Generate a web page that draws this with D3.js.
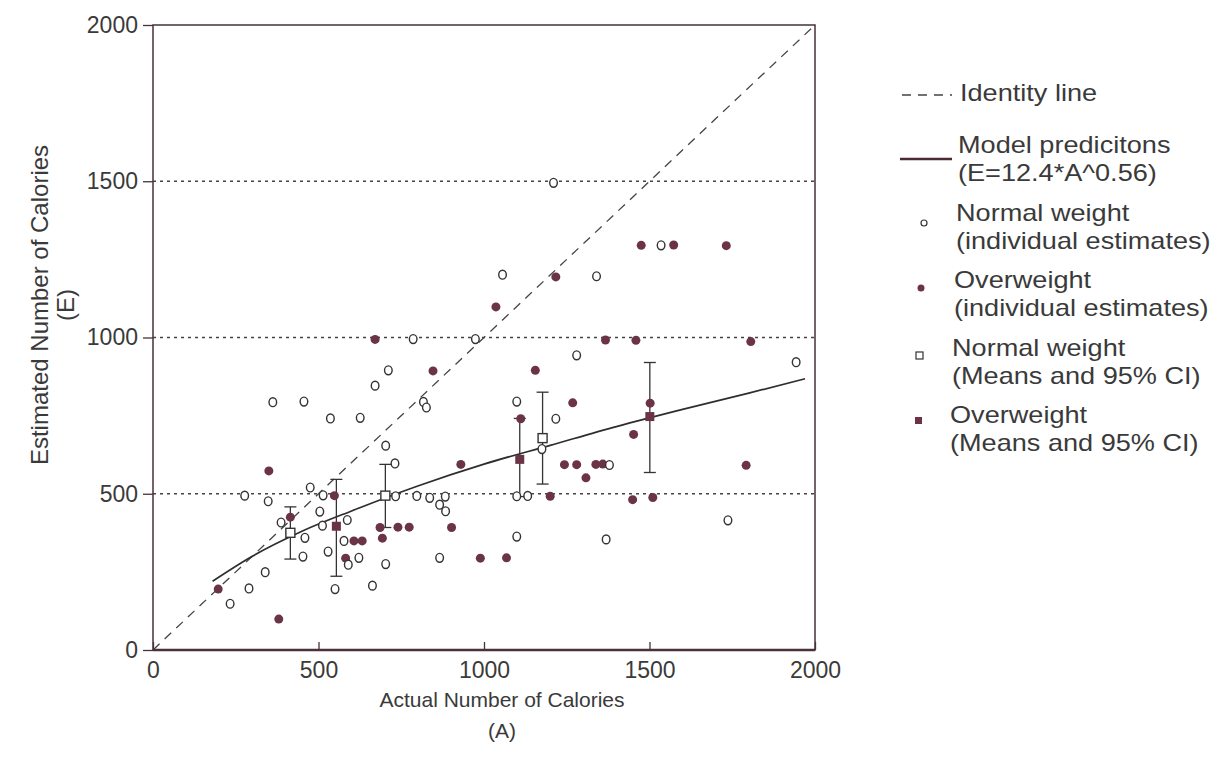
<!DOCTYPE html>
<html>
<head>
<meta charset="utf-8">
<script src="https://cdn.jsdelivr.net/npm/d3@7"></script>
<style>
  html, body { margin: 0; padding: 0; background: #ffffff; }
  svg { display: block; }
  text { font-family: "Liberation Sans", Arial, sans-serif; fill: #3a3a3a; }
</style>
</head>
<body>
<svg id="chart" width="1214" height="765"></svg>
<script>
// ---------------- DATA ----------------
const xTicks = [0, 500, 1000, 1500, 2000];
const yTicks = [0, 500, 1000, 1500, 2000];
const gridValues = [500, 1000, 1500];

// Normal weight, individual estimates [A, E]
const normalIndividual = [
  [233,148],[277,494],[290,197],[339,249],[348,476],[362,793],[387,408],[414,375],
  [453,299],[456,795],[459,359],[475,520],[504,443],[512,398],[514,495],[529,315],
  [536,741],[550,195],[577,349],[587,416],[590,273],[622,295],[626,743],[663,206],
  [671,846],[703,275],[703,654],[711,895],[731,597],[733,492],[786,995],[797,493],
  [817,794],[826,776],[836,487],[866,295],[866,465],[883,491],[884,444],[974,995],
  [1056,1201],[1099,363],[1099,492],[1099,795],[1132,493],[1175,643],[1210,1495],
  [1217,740],[1280,943],[1340,1196],[1369,354],[1379,592],[1535,1295],[1737,415],[1943,921]
];

// Overweight, individual estimates [A, E]
const overweightIndividual = [
  [197,195],[350,573],[380,99],[415,425],[548,494],[582,294],[607,349],[632,349],
  [671,994],[686,392],[693,358],[740,393],[774,393],[846,893],[902,392],[930,594],
  [989,294],[1036,1098],[1068,295],[1111,740],[1155,895],[1200,492],[1217,1194],
  [1243,593],[1268,791],[1280,593],[1308,551],[1338,594],[1359,595],[1367,992],
  [1449,481],[1452,690],[1459,991],[1475,1295],[1502,790],[1510,488],[1573,1296],
  [1732,1294],[1792,591],[1806,987]
];

// Means and 95% CI
const normalMeanA  = [415, 702, 1177];
const normalMeanE  = [375, 494, 678];
const normalLow    = [291, 392, 531];
const normalHigh   = [458, 594, 825];

const overMeanA    = [554, 1108, 1501];
const overMeanE    = [396, 610, 747];
const overLow      = [236, 491, 568];
const overHigh     = [546, 741, 920];

// Model predictions curve
const modelA = [180, 300, 450, 600, 800, 1000, 1200, 1400, 1600, 1800, 1970];
const modelE = [220, 300, 380, 445, 525, 595, 655, 715, 770, 822, 868];

// Legend labels
const legendLabels = [
  ["Identity line"],
  ["Model predicitons", "(E=12.4*A^0.56)"],
  ["Normal weight", "(individual estimates)"],
  ["Overweight", "(individual estimates)"],
  ["Normal weight", "(Means and 95% CI)"],
  ["Overweight", "(Means and 95% CI)"]
];

// ---------------- DRAWING ----------------
const svg = d3.select("#chart");
const pL = 153, pR = 815, pT = 25, pB = 650;
const x = d3.scaleLinear().domain([0, 2000]).range([pL, pR]);
const y = d3.scaleLinear().domain([0, 2000]).range([pB, pT]);

const ink = "#333333";
const frame = "#4a3037";
const maroon = "#6b3446";

// Grid (dotted horizontal reference lines)
svg.append("g").selectAll("line").data(gridValues).join("line")
  .attr("x1", x(0)).attr("x2", x(2000))
  .attr("y1", d => y(d)).attr("y2", d => y(d))
  .attr("stroke", "#444").attr("stroke-width", 1.3)
  .attr("stroke-dasharray", "3,4");

// Identity line
svg.append("line")
  .attr("x1", x(0)).attr("y1", y(0)).attr("x2", x(2000)).attr("y2", y(2000))
  .attr("stroke", "#444").attr("stroke-width", 1.3)
  .attr("stroke-dasharray", "9,7");

// Frame
svg.append("rect")
  .attr("x", pL).attr("y", pT).attr("width", pR - pL).attr("height", pB - pT)
  .attr("fill", "none").attr("stroke", frame).attr("stroke-width", 1.5);
svg.append("line")
  .attr("x1", pL).attr("x2", pR).attr("y1", pB).attr("y2", pB)
  .attr("stroke", frame).attr("stroke-width", 2.5);

// Axes
const fmt = d3.format("d");
const xAxis = d3.axisBottom(x).tickValues(xTicks).tickFormat(fmt)
  .tickSizeInner(-8).tickSizeOuter(0).tickPadding(12);
const gx = svg.append("g").attr("transform", `translate(0,${pB})`).call(xAxis);
gx.select(".domain").remove();
gx.selectAll(".tick line").attr("stroke", frame).attr("stroke-width", 1.3);
gx.selectAll(".tick text").attr("font-size", 23).attr("fill", "#3a3a3a")
  .attr("font-family", "Liberation Sans, Arial, sans-serif");

const yAxis = d3.axisLeft(y).tickValues(yTicks).tickFormat(fmt)
  .tickSizeInner(10).tickSizeOuter(0).tickPadding(5);
const gy = svg.append("g").attr("transform", `translate(${pL},0)`).call(yAxis);
gy.select(".domain").remove();
gy.selectAll(".tick line").attr("stroke", frame).attr("stroke-width", 1.3);
gy.selectAll(".tick text").attr("font-size", 23).attr("fill", "#3a3a3a")
  .attr("font-family", "Liberation Sans, Arial, sans-serif");

// Axis titles
svg.append("text").attr("x", 502).attr("y", 707)
  .attr("text-anchor", "middle").attr("font-size", 21).text("Actual Number of Calories");
svg.append("text").attr("x", 502).attr("y", 738)
  .attr("text-anchor", "middle").attr("font-size", 21).text("(A)");
svg.append("text").attr("transform", "translate(48,305) rotate(-90)")
  .attr("text-anchor", "middle").attr("font-size", 24).text("Estimated Number of Calories");
svg.append("text").attr("transform", "translate(74,305) rotate(-90)")
  .attr("text-anchor", "middle").attr("font-size", 24).text("(E)");

// Model curve
const modelPts = modelA.map((a, i) => [a, modelE[i]]);
svg.append("path").datum(modelPts)
  .attr("d", d3.line().x(d => x(d[0])).y(d => y(d[1])).curve(d3.curveMonotoneX))
  .attr("fill", "none").attr("stroke", "#2e2e2e").attr("stroke-width", 1.7);

// Error bars
function errorBars(A, lo, hi) {
  const g = svg.append("g").attr("stroke", ink).attr("stroke-width", 1.3);
  A.forEach((a, i) => {
    g.append("line").attr("x1", x(a)).attr("x2", x(a)).attr("y1", y(lo[i])).attr("y2", y(hi[i]));
    g.append("line").attr("x1", x(a) - 6).attr("x2", x(a) + 6).attr("y1", y(lo[i])).attr("y2", y(lo[i]));
    g.append("line").attr("x1", x(a) - 6).attr("x2", x(a) + 6).attr("y1", y(hi[i])).attr("y2", y(hi[i]));
  });
}
errorBars(normalMeanA, normalLow, normalHigh);
errorBars(overMeanA, overLow, overHigh);

// Individual points
svg.append("g").selectAll("circle").data(overweightIndividual).join("circle")
  .attr("cx", d => x(d[0])).attr("cy", d => y(d[1])).attr("r", 4.5)
  .attr("fill", maroon);
svg.append("g").selectAll("ellipse").data(normalIndividual).join("ellipse")
  .attr("cx", d => x(d[0])).attr("cy", d => y(d[1])).attr("rx", 3.8).attr("ry", 4.4)
  .attr("fill", "#fff").attr("stroke", ink).attr("stroke-width", 1.4);

// Means
svg.append("g").selectAll("rect").data(normalMeanA).join("rect")
  .attr("x", (d) => x(d) - 4.5).attr("y", (d, i) => y(normalMeanE[i]) - 4.5)
  .attr("width", 9).attr("height", 9)
  .attr("fill", "#fff").attr("stroke", ink).attr("stroke-width", 1.4);
svg.append("g").selectAll("rect").data(overMeanA).join("rect")
  .attr("x", (d) => x(d) - 4.5).attr("y", (d, i) => y(overMeanE[i]) - 4.5)
  .attr("width", 9).attr("height", 9)
  .attr("fill", maroon);

// Legend
const lg = svg.append("g");
const rowY = [93, 145, 213, 280, 348, 415];
legendLabels.forEach((lines, i) => {
  const tx = 960 - 2 * i;
  lines.forEach((t, j) => {
    lg.append("text")
      .attr("transform", `translate(${tx},${rowY[i] + j * 28}) scale(1.13,1)`)
      .attr("dominant-baseline", "central").attr("font-size", 24).text(t);
  });
});
// legend symbols
lg.append("line").attr("x1", 902).attr("x2", 952).attr("y1", 95).attr("y2", 95)
  .attr("stroke", "#444").attr("stroke-width", 1.5).attr("stroke-dasharray", "9,7");
lg.append("line").attr("x1", 900).attr("x2", 952).attr("y1", 159).attr("y2", 159)
  .attr("stroke", "#4a2a33").attr("stroke-width", 2.5);
lg.append("circle").attr("cx", 924).attr("cy", 223).attr("r", 3)
  .attr("fill", "#fff").attr("stroke", ink).attr("stroke-width", 1.2);
lg.append("circle").attr("cx", 921).attr("cy", 288).attr("r", 3.5).attr("fill", maroon);
lg.append("rect").attr("x", 916).attr("y", 352).attr("width", 7).attr("height", 7)
  .attr("fill", "#fff").attr("stroke", ink).attr("stroke-width", 1.2);
lg.append("rect").attr("x", 915).attr("y", 417).attr("width", 7).attr("height", 7)
  .attr("fill", maroon);
</script>
</body>
</html>
